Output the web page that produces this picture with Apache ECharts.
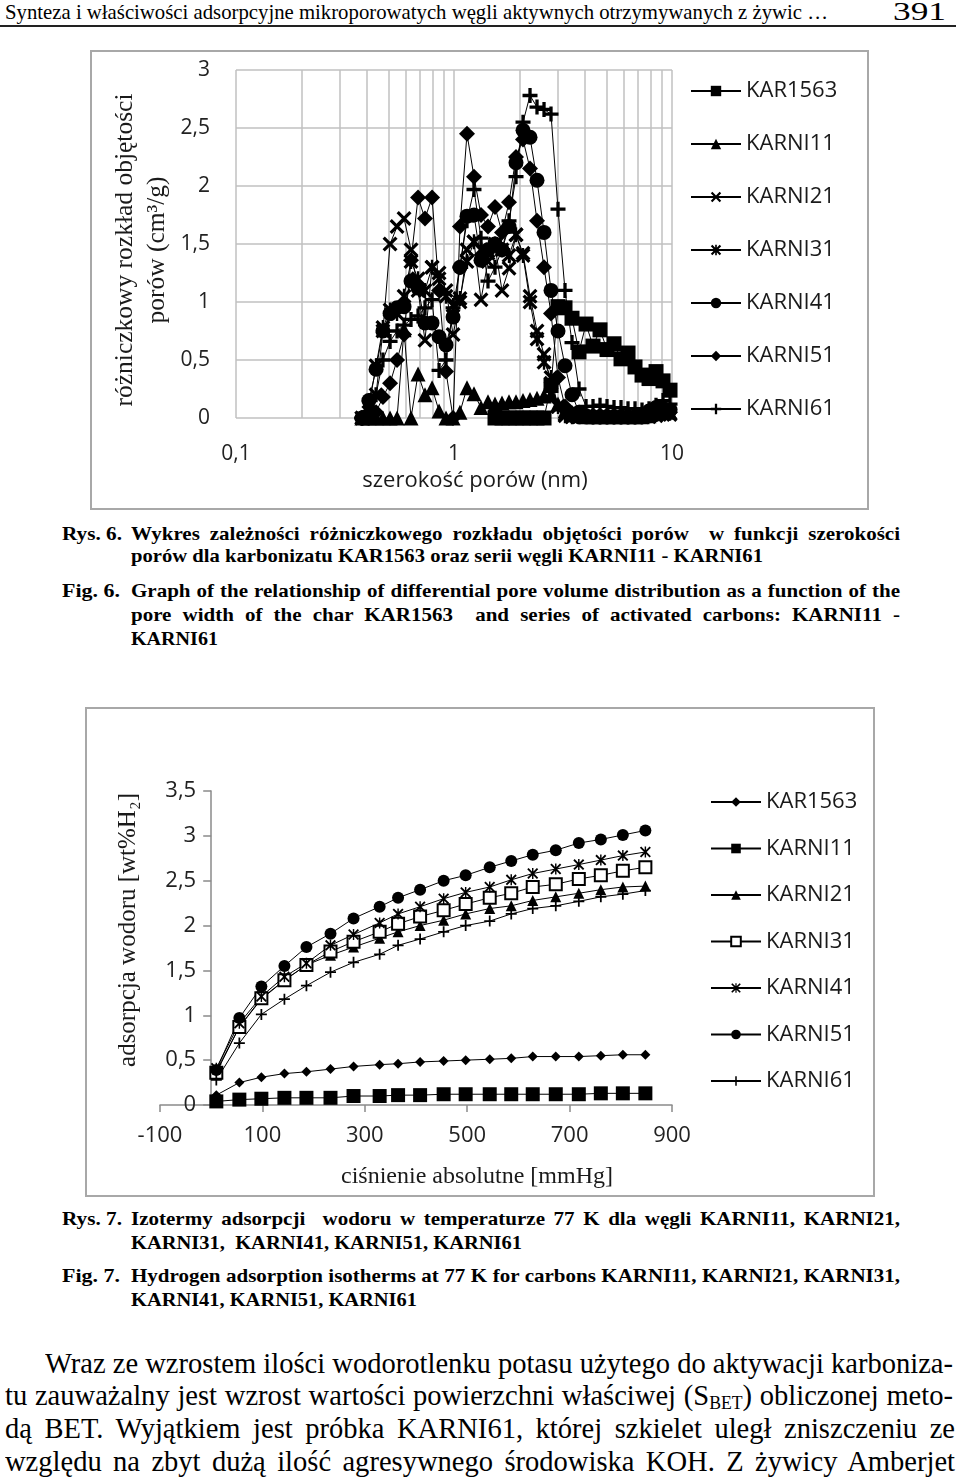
<!DOCTYPE html>
<html><head><meta charset="utf-8">
<script src="https://cdn.jsdelivr.net/npm/echarts@6/dist/echarts.min.js"></script>
<style>
html,body{margin:0;padding:0;background:#fff;}
body{width:960px;height:1480px;position:relative;overflow:hidden;font-family:"Liberation Serif","Times New Roman",serif;color:#000;}
.t{position:absolute;white-space:pre;transform-origin:0 50%;}
.t sub{font-size:0.62em;vertical-align:-0.22em;line-height:0;}
.frame{position:absolute;border:2px solid #a8a8a8;}
#rule{position:absolute;left:0;top:25px;width:956px;height:2px;background:#222;}
</style></head>
<body>
<div id="rule"></div>
<div id="c1" class="frame" style="left:90px;top:50px;width:775px;height:456px;"></div>
<div id="c2" class="frame" style="left:85px;top:707px;width:786px;height:486px;"></div>
<script>
// ---------- Fig. 6 data: pore width (nm) and differential pore volume (cm3/g) ----------
const poreWidth = [0.378,0.407,0.439,0.472,0.509,0.548,0.590,0.635,0.684,0.736,0.793,0.854,0.919,0.990,1.065,1.147,1.235,1.330,1.432,1.542,1.660,1.788,1.925,2.073,2.232,2.403,2.588,2.786,3.000,3.230,3.478,3.745,4.033,4.342,4.675,5.034,5.420,5.836,6.284,6.766,7.286,7.845,8.447,9.095,9.793];
const psdKAR1563 = [null,null,null,null,null,null,null,null,null,null,null,null,null,null,null,null,null,null,null,0,0,0,0,0,0,0,0,0.28,0.96,0.95,0.86,0.57,0.81,0.62,0.76,0.59,0.64,0.51,0.56,0.44,0.37,0.34,0.40,0.32,0.24];
const psdKARNI11 = [0,0,0,0,0,0,0.76,0,0.38,0.2,0.26,0.06,0,0,0.05,0.26,0.21,0.09,0.14,0.12,0.13,0.14,0.14,0.15,0.16,0.17,0.19,0.2,0.12,0.06,0.03,0.02,0.01,0.01,0.01,0.01,0.01,0.01,0.01,0.01,0.01,0.02,0.05,0.06,0.05];
const psdKARNI21 = [0,0.05,0.2,0.75,1.5,1.65,1.72,1.45,1.1,0.67,1.3,1.25,1.1,0.72,1.0,1.45,1.52,1.02,1.35,1.48,1.1,1.29,1.58,1.42,1.05,0.75,0.55,0.3,0.1,0.03,0.01,0.01,0.01,0.01,0.01,0.01,0.01,0.01,0.01,0.01,0.01,0.01,0.02,0.03,0.03];
const psdKARNI31 = [0,0.1,0.45,0.78,0.93,0.9,1.05,1.35,1.2,1.1,1.3,1.2,1.05,0.97,1.03,1.35,1.52,1.45,1.42,1.5,1.45,1.4,1.58,1.4,1.0,0.68,0.48,0.35,0.1,0.02,0.01,0.01,0.01,0.01,0.01,0.01,0.01,0.01,0.01,0.01,0.01,0.02,0.03,0.04,0.04];
const psdKARNI41 = [0,0.15,0.42,0.75,0.9,0.95,0.96,1.18,1.12,0.82,0.82,0.7,0.63,0.87,1.3,1.74,1.75,1.36,1.45,1.5,1.45,1.65,2.2,2.48,2.42,2.05,1.6,1.1,0.75,0.45,0.2,0.05,0.02,0.01,0.01,0.01,0.01,0.01,0.01,0.01,0.02,0.06,0.09,0.08,0.07];
const psdKARNI51 = [0,0,0.05,0.18,0.3,0.5,0.72,1.36,1.9,1.72,1.9,1.1,0.4,0,1.65,2.45,2.08,1.75,1.65,1.82,1.6,1.86,2.25,2.4,2.15,1.7,1.3,0.9,0.35,0.1,0.04,0.02,0.02,0.01,0.01,0.01,0.01,0.01,0.01,0.01,0.01,0.02,0.04,0.06,0.05];
const psdKARNI61 = [0,0.05,0.2,0.5,0.66,0.75,0.8,0.85,0.88,0.95,1.02,0.41,0.5,0.95,1.3,1.7,1.97,1.55,1.18,1.3,1.45,1.7,2.08,2.55,2.78,2.68,2.66,2.62,1.8,1.1,0.65,0.25,0.1,0.1,0.11,0.1,0.09,0.09,0.08,0.08,0.07,0.08,0.11,0.15,0.12];
const logGridLines = [0.2,0.3,0.4,0.5,0.6,0.7,0.8,0.9,2,3,4,5,6,7,8,9];

// ---------- Fig. 7 data: pressure (mmHg) and H2 uptake (wt%) ----------
const pressure = [10,55,98,143,186,233,278,329,365,408,454,497,544,586,628,673,718,761,804,848];
const h2KAR1563 = [0.11,0.25,0.31,0.35,0.37,0.40,0.43,0.45,0.46,0.48,0.49,0.50,0.51,0.52,0.54,0.54,0.54,0.55,0.56,0.56];
const h2KARNI11 = [0.04,0.06,0.07,0.08,0.08,0.08,0.10,0.10,0.11,0.11,0.12,0.12,0.12,0.12,0.12,0.12,0.12,0.13,0.13,0.13];
const h2KARNI21 = [0.38,0.87,1.18,1.39,1.56,1.67,1.76,1.86,1.93,2.00,2.06,2.13,2.19,2.22,2.28,2.32,2.36,2.40,2.43,2.44];
const h2KARNI31 = [0.36,0.87,1.19,1.39,1.56,1.71,1.82,1.93,2.02,2.10,2.17,2.24,2.31,2.36,2.43,2.46,2.52,2.56,2.61,2.65];
const h2KARNI41 = [0.41,0.91,1.21,1.43,1.58,1.78,1.90,2.03,2.13,2.21,2.30,2.37,2.43,2.51,2.58,2.63,2.68,2.73,2.78,2.82];
const h2KARNI51 = [0.39,0.97,1.32,1.55,1.76,1.91,2.08,2.21,2.31,2.40,2.50,2.56,2.65,2.72,2.79,2.84,2.92,2.96,3.01,3.06];
const h2KARNI61 = [0.28,0.69,1.01,1.18,1.33,1.48,1.59,1.68,1.78,1.85,1.93,2.00,2.05,2.13,2.19,2.22,2.27,2.32,2.35,2.39];
const xTicks2 = [-100,100,300,500,700,900];

const names1 = ['KAR1563','KARNI11','KARNI21','KARNI31','KARNI41','KARNI51','KARNI61'];

// ---------- page text ----------
const textLines = [
 {g:'hdr',x:5,w:823,y:13,s:22,h:'Synteza i właściwości adsorpcyjne mikroporowatych węgli aktywnych otrzymywanych z żywic …'},
 {g:'hdr2',x:893,w:53,y:13,s:25,h:'391'},
 {g:'cap',x:62,w:60,y:535,s:19.5,b:1,h:'Rys. 6.'},
 {g:'cap',x:131,w:769,y:535,s:19.5,b:1,j:1,h:'Wykres zależności różniczkowego rozkładu objętości porów  w funkcji szerokości'},
 {g:'cap',x:131,w:632,y:557,s:19.5,b:1,h:'porów dla karbonizatu KAR1563 oraz serii węgli KARNI11 - KARNI61'},
 {g:'cap',x:62,w:58,y:592,s:19.5,b:1,h:'Fig. 6.'},
 {g:'cap',x:131,w:769,y:592,s:19.5,b:1,j:1,h:'Graph of the relationship of differential pore volume distribution as a function of the'},
 {g:'cap',x:131,w:769,y:616,s:19.5,b:1,j:1,h:'pore width of the char KAR1563  and series of activated carbons: KARNI11 -'},
 {g:'cap',x:131,w:87,y:640,s:19.5,b:1,h:'KARNI61'},
 {g:'cap',x:62,w:60,y:1220,s:19.5,b:1,h:'Rys. 7.'},
 {g:'cap',x:131,w:769,y:1220,s:19.5,b:1,j:1,h:'Izotermy adsorpcji  wodoru w temperaturze 77 K dla węgli KARNI11, KARNI21,'},
 {g:'cap',x:131,w:391,y:1244,s:19.5,b:1,h:'KARNI31,  KARNI41, KARNI51, KARNI61'},
 {g:'cap',x:62,w:58,y:1277,s:19.5,b:1,h:'Fig. 7.'},
 {g:'cap',x:131,w:769,y:1277,s:19.5,b:1,j:1,h:'Hydrogen adsorption isotherms at 77 K for carbons KARNI11, KARNI21, KARNI31,'},
 {g:'cap',x:131,w:286,y:1301,s:19.5,b:1,h:'KARNI41, KARNI51, KARNI61'},
 {g:'par',x:45,w:908,y:1365,s:29,j:1,h:'Wraz ze wzrostem ilości wodorotlenku potasu użytego do aktywacji karboniza-'},
 {g:'par',x:5,w:948,y:1397,s:29,j:1,h:'tu zauważalny jest wzrost wartości powierzchni właściwej (S<sub>BET</sub>) obliczonej meto-'},
 {g:'par',x:5,w:950,y:1430,s:29,j:1,h:'dą BET. Wyjątkiem jest próbka KARNI61, której szkielet uległ zniszczeniu ze'},
 {g:'par',x:5,w:950,y:1463,s:29,j:1,h:'względu na zbyt dużą ilość agresywnego środowiska KOH. Z żywicy Amberjet'}
];

function layoutText(){
  const groups = {};
  textLines.forEach(L=>{
    let d = L.el;
    if(!d){ d=document.createElement('div'); d.className='t'; d.innerHTML=L.h; document.body.appendChild(d); L.el=d; }
    d.style.cssText = 'left:'+L.x+'px;top:'+(L.y-0.55*L.s)+'px;font-size:'+L.s+'px;line-height:'+L.s+'px;font-weight:'+(L.b?'bold':'normal')+';';
    L.nat = d.getBoundingClientRect().width;
    L.ratio = L.w / L.nat;
    (groups[L.g] = groups[L.g] || []).push(L);
  });
  Object.keys(groups).forEach(k=>{
    const G = groups[k];
    const free = G.filter(L=>!L.j);
    const c = free.length ? free.reduce((a,L)=>a+L.ratio,0)/free.length : Math.min.apply(null, G.map(L=>L.ratio));
    G.forEach(L=>{
      if(!L.j){ L.el.style.transform='scaleX('+L.ratio+')'; return; }
      const n = (L.el.textContent.match(/ /g)||[]).length || 1;
      let sc = c, ws = (L.w/c - L.nat)/n;
      if(ws < 0){ sc = L.ratio; ws = 0; }
      L.el.style.wordSpacing = ws+'px';
      L.el.style.transform = 'scaleX('+sc+')';
    });
  });
}
layoutText();
if(document.fonts && document.fonts.ready){ document.fonts.ready.then(layoutText); }

// ---------- symbols ----------
const SYM_X = 'path://M1.5,0L5,3.5L8.5,0L10,1.5L6.5,5L10,8.5L8.5,10L5,6.5L1.5,10L0,8.5L3.5,5L0,1.5Z';
const SYM_AST = 'path://M1.5,0L5,3.5L8.5,0L10,1.5L6.5,5L10,8.5L8.5,10L5,6.5L1.5,10L0,8.5L3.5,5L0,1.5Z M4.2,0H5.8V10H4.2Z';
const SYM_PLUS = 'path://M3.9,0H6.1V3.9H10V6.1H6.1V10H3.9V6.1H0V3.9H3.9Z';
const SYM_AST2 = 'path://M1.2,0L5,3.8L8.8,0L10,1.2L6.2,5L10,8.8L8.8,10L5,6.2L1.2,10L0,8.8L3.8,5L0,1.2Z M4.35,0H5.65V10H4.35Z';
const SYM_PLUS2 = 'path://M4.2,0H5.8V4.2H10V5.8H5.8V10H4.2V5.8H0V4.2H4.2Z';

const INK = '#000';
const LBL = '#222';
const SANS = '"Open Sans", "Liberation Sans", sans-serif';
const SERIF = '"Liberation Serif", "Times New Roman", serif';
const comma = v => String(Math.round(v*1000)/1000).replace('.', ',');

function ser(name, xs, ys, symbol, size, extra){
  const s = {
    name, type:'line',
    data: xs.map((x,i)=>[x, ys[i]]).filter(d=>d[1]!==null),
    symbol, symbolSize:size, showAllSymbol:true,
    lineStyle:{color:INK, width:1},
    itemStyle:{color:INK},
    emphasis:{disabled:true}, animation:false, z:3
  };
  return Object.assign(s, extra||{});
}

// ---------- chart 1 ----------
const chart1 = echarts.init(document.getElementById('c1'));
const s1 = [
  ser('KAR1563', poreWidth, psdKAR1563, 'rect', 15),
  ser('KARNI11', poreWidth, psdKARNI11, 'triangle', 15),
  ser('KARNI21', poreWidth, psdKARNI21, SYM_X, 15),
  ser('KARNI31', poreWidth, psdKARNI31, SYM_AST, 15),
  ser('KARNI41', poreWidth, psdKARNI41, 'circle', 15),
  ser('KARNI51', poreWidth, psdKARNI51, 'diamond', 16),
  ser('KARNI61', poreWidth, psdKARNI61, SYM_PLUS, 15)
];
s1[0].markLine = {
  silent:true, symbol:['none','none'], label:{show:false}, animation:false, z:1,
  lineStyle:{color:'#c0c0c0', type:'solid', width:1.5},
  emphasis:{disabled:true},
  data: logGridLines.map(v=>({xAxis:v}))
};
chart1.setOption({
  animation:false,
  grid:{left:144, top:18, width:436, height:348},
  xAxis:{type:'log', logBase:10, min:0.1, max:10,
    axisLine:{show:false}, axisTick:{show:false},
    splitLine:{show:true, lineStyle:{color:'#c0c0c0', width:1.5}},
    axisLabel:{margin:26, fontSize:21, color:LBL, fontFamily:SANS, formatter:comma}},
  yAxis:{type:'value', min:0, max:3, interval:0.5,
    axisLine:{show:false}, axisTick:{show:false},
    splitLine:{show:true, lineStyle:{color:'#c0c0c0', width:1.5}},
    axisLabel:{margin:26, fontSize:21, color:LBL, fontFamily:SANS, formatter:comma}},
  legend:{data:names1, orient:'vertical', left:593, top:23, itemWidth:50, itemHeight:13, itemGap:31,
    selectedMode:false, textStyle:{fontSize:22, lineHeight:21, color:'#1a1a1a', fontFamily:SANS}},
  graphic:[
    {type:'text', x:49, y:198, rotation:Math.PI/2, silent:true,
      style:{text:'różniczkowy rozkład objętości\nporów (cm³/g)', fontSize:25.5, lineHeight:32, fontFamily:SERIF, fill:'#1a1a1a', align:'center', verticalAlign:'middle'}},
    {type:'text', x:383, y:429, silent:true,
      style:{text:'szerokość porów (nm)', fontSize:22, fontFamily:SANS, fill:'#1a1a1a', align:'center', verticalAlign:'middle'}}
  ],
  series:s1
});

// ---------- chart 2 ----------
const chart2 = echarts.init(document.getElementById('c2'));
const s2 = [
  ser('KAR1563', pressure, h2KAR1563, 'diamond', 10),
  ser('KARNI11', pressure, h2KARNI11, 'rect', 14),
  ser('KARNI21', pressure, h2KARNI21, 'triangle', 11),
  ser('KARNI31', pressure, h2KARNI31, 'rect', 12, {itemStyle:{color:'#fff', borderColor:INK, borderWidth:2}}),
  ser('KARNI41', pressure, h2KARNI41, SYM_AST2, 11),
  ser('KARNI51', pressure, h2KARNI51, 'circle', 12),
  ser('KARNI61', pressure, h2KARNI61, SYM_PLUS2, 11)
];
// y axis crosses the x axis at x = 0 (grid width 512 px spans 1000 mmHg)
const yCrossOffset = -(0 - (-100)) * 512 / 1000;
chart2.setOption({
  animation:false,
  grid:{left:73, top:82, width:512, height:314},
  xAxis:{type:'value', min:-100, max:900, interval:100,
    axisLine:{show:true, onZero:false, lineStyle:{color:'#8a8a8a', width:1.5}},
    axisTick:{show:true, length:7, customValues:xTicks2, lineStyle:{color:'#8a8a8a', width:1.5}},
    splitLine:{show:false},
    axisLabel:{margin:20, fontSize:22, color:LBL, fontFamily:SANS, customValues:xTicks2}},
  yAxis:{type:'value', min:0, max:3.5, interval:0.5, offset:yCrossOffset,
    axisLine:{show:true, onZero:false, lineStyle:{color:'#8a8a8a', width:1.5}},
    axisTick:{show:true, length:8, lineStyle:{color:'#8a8a8a', width:1.5}},
    splitLine:{show:false},
    axisLabel:{margin:15, fontSize:22, color:LBL, fontFamily:SANS, formatter:comma}},
  legend:{data:names1, orient:'vertical', left:618, top:77, itemWidth:50, itemHeight:12, itemGap:24.5,
    selectedMode:false, textStyle:{fontSize:22, lineHeight:21, color:'#1a1a1a', fontFamily:SANS}},
  graphic:[
    {type:'text', x:41, y:221, rotation:Math.PI/2, silent:true,
      style:{text:'adsorpcja wodoru [wt%H₂]', fontSize:25, fontFamily:SERIF, fill:'#1a1a1a', align:'center', verticalAlign:'middle'}},
    {type:'text', x:390, y:468, silent:true,
      style:{text:'ciśnienie absolutne [mmHg]', fontSize:24, fontFamily:SERIF, fill:'#1a1a1a', align:'center', verticalAlign:'middle'}}
  ],
  series:s2
});
</script>
</body></html>
